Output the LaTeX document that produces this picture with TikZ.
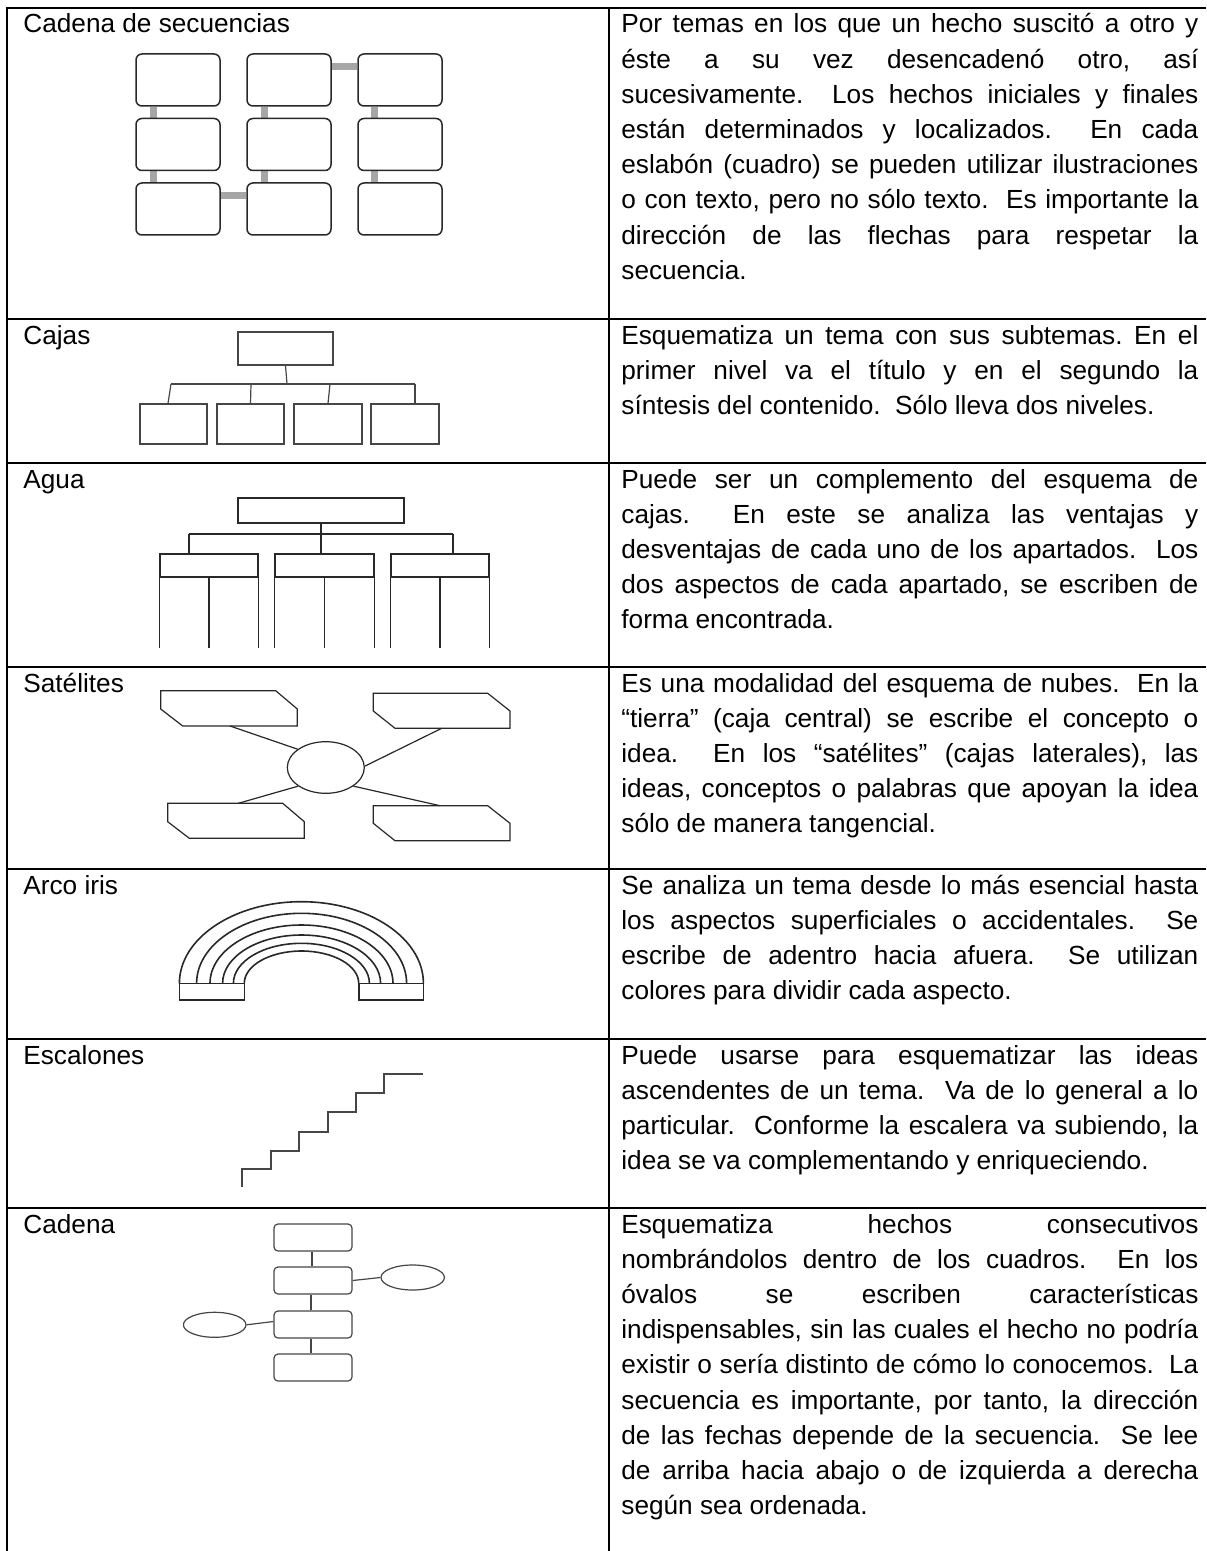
\documentclass[tikz,border=0pt]{standalone}
\usepackage{fontspec}
\setmainfont{Liberation Sans}
\usetikzlibrary{shapes.geometric,calc,backgrounds}
\definecolor{conn}{RGB}{166,166,166}
\definecolor{ink}{RGB}{40,40,40}
\definecolor{inkl}{RGB}{70,70,70}
\pretolerance=10000
\tolerance=10000
\hbadness=10000
\hfuzz=30pt
\frenchspacing
\begin{document}
\begin{tikzpicture}[x=0.5pt,y=-0.5pt,
  grid/.style={line width=1.25pt,black},
  lbl/.style={anchor=base west,inner sep=0pt,font=\fontsize{13.1}{17.6}\selectfont},
  desc/.style={anchor=base west,inner sep=0pt,text width=288.5pt,align=justify,font=\fontsize{13.1}{17.6}\selectfont},
  sbox/.style={draw=ink,line width=0.75pt,rounded corners=3pt,minimum width=42pt,minimum height=26pt,inner sep=0pt,fill=white},
  gcon/.style={draw=conn,line width=3.5pt},
  cbox/.style={draw=inkl,line width=0.6pt,inner sep=0pt},
  cline/.style={draw=inkl,line width=0.6pt},
  aline/.style={draw=ink,line width=0.7pt},
  sat/.style={draw=ink,line width=0.6pt},
  rb/.style={draw=ink,line width=0.8pt},
  st/.style={draw=inkl,line width=0.6pt},
  kbox/.style={draw=inkl,line width=0.6pt,rounded corners=2pt,minimum width=39pt,minimum height=13.5pt,inner sep=0pt},
  oval/.style={draw=inkl,line width=0.6pt,ellipse,inner sep=0pt,minimum height=12.5pt}
]
\begin{scope}[on background layer]
\fill[white] (0,0) rectangle (1206,1551);
\end{scope}
\useasboundingbox (0,0) rectangle (1206,1551);

% ---------- table grid ----------
\draw[grid] (1206,8) -- (7,8) -- (7,1551);
\draw[grid] (609,8) -- (609,1551);
\foreach \yy in {319,463,667,869,1039,1208} \draw[grid] (7,\yy) -- (1206,\yy);

% ---------- labels ----------
\node[lbl] (l1) at (23,33) {Cadena de secuencias};
\node[lbl] (l2) at (23,344) {Cajas};
\node[lbl] (l3) at (23,488) {Agua};
\node[lbl] (l4) at (23,692) {Satélites};
\node[lbl] (l5) at (23,894) {Arco iris};
\node[lbl] (l6) at (23,1064) {Escalones};
\node[lbl] (l7) at (23,1233) {Cadena};

% ---------- descriptions ----------
\node[desc] (d1) at (621,33) {Por temas en los que un hecho suscitó a otro y\linebreak
éste a su vez desencadenó otro, así\linebreak
sucesivamente.\ \ Los hechos iniciales y finales\linebreak
están determinados y localizados.\ \ En cada\linebreak
eslabón (cuadro) se pueden utilizar ilustraciones\linebreak
o con texto, pero no sólo texto.\ \ Es importante la\linebreak
dirección de las flechas para respetar la\linebreak
secuencia.};
\node[desc] (d2) at (621,344) {Esquematiza un tema con sus subtemas. En el\linebreak
primer nivel va el título y en el segundo la\linebreak
síntesis del contenido.\ \ Sólo lleva dos niveles.};
\node[desc] (d3) at (621,488) {Puede ser un complemento del esquema de\linebreak
cajas.\ \ En este se analiza las ventajas y\linebreak
desventajas de cada uno de los apartados.\ \ Los\linebreak
dos aspectos de cada apartado, se escriben de\linebreak
forma encontrada.};
\node[desc] (d4) at (621,692) {Es una modalidad del esquema de nubes.\ \ En la\linebreak
“tierra” (caja central) se escribe el concepto o\linebreak
idea.\ \ En los “satélites” (cajas laterales), las\linebreak
ideas, conceptos o palabras que apoyan la idea\linebreak
sólo de manera tangencial.};
\node[desc] (d5) at (621,894) {Se analiza un tema desde lo más esencial hasta\linebreak
los aspectos superficiales o accidentales.\ \ Se\linebreak
escribe de adentro hacia afuera.\ \ Se utilizan\linebreak
colores para dividir cada aspecto.};
\node[desc] (d6) at (621,1064) {Puede usarse para esquematizar las ideas\linebreak
ascendentes de un tema.\ \ Va de lo general a lo\linebreak
particular.\ \ Conforme la escalera va subiendo, la\linebreak
idea se va complementando y enriqueciendo.};
\node[desc] (d7) at (621,1233) {Esquematiza hechos consecutivos\linebreak
nombrándolos dentro de los cuadros.\ \ En los\linebreak
óvalos se escriben características\linebreak
indispensables, sin las cuales el hecho no podría\linebreak
existir o sería distinto de cómo lo conocemos.\ \ La\linebreak
secuencia es importante, por tanto, la dirección\linebreak
de las fechas depende de la secuencia.\ \ Se lee\linebreak
de arriba hacia abajo o de izquierda a derecha\linebreak
según sea ordenada.};

% ---------- Cadena de secuencias ----------
\node[sbox] (b11) at (178,80) {};
\node[sbox] (b12) at (289,80) {};
\node[sbox] (b13) at (400,80) {};
\node[sbox] (b21) at (178,144.5) {};
\node[sbox] (b22) at (289,144.5) {};
\node[sbox] (b23) at (400,144.5) {};
\node[sbox] (b31) at (178,209) {};
\node[sbox] (b32) at (289,209) {};
\node[sbox] (b33) at (400,209) {};
\begin{scope}[on background layer]
\draw[gcon] ([xshift=9pt]b11.south west) -- ([xshift=9pt]b21.north west);
\draw[gcon] ([xshift=9pt]b21.south west) -- ([xshift=9pt]b31.north west);
\draw[gcon] ([xshift=9pt]b12.south west) -- ([xshift=9pt]b22.north west);
\draw[gcon] ([xshift=9pt]b22.south west) -- ([xshift=9pt]b32.north west);
\draw[gcon] ([xshift=8.5pt]b13.south west) -- ([xshift=8.5pt]b23.north west);
\draw[gcon] ([xshift=8.5pt]b23.south west) -- ([xshift=8.5pt]b33.north west);
\draw[gcon] ([yshift=-6.5pt]b12.north east) -- ([yshift=-6.5pt]b13.north west);
\draw[gcon] ([yshift=-6.5pt]b31.north east) -- ([yshift=-6.5pt]b32.north west);
\end{scope}

% ---------- Cajas ----------
\node[cbox,minimum width=47.5pt,minimum height=16.5pt] (kt) at (285.5,348.5) {};
\node[cbox,minimum width=33.5pt,minimum height=20pt] (k1) at (173.5,424) {};
\node[cbox,minimum width=33.5pt,minimum height=20pt] (k2) at (250.5,424) {};
\node[cbox,minimum width=34pt,minimum height=20pt] (k3) at (328,424) {};
\node[cbox,minimum width=34pt,minimum height=20pt] (k4) at (405,424) {};
\coordinate (kbl) at (171,384);
\coordinate (kbm) at (287,384);
\coordinate (kb2) at (251,384);
\coordinate (kb3) at (330,384);
\coordinate (kbr) at (415,384);
\draw[cline] (kbl) -- (kbr);
\draw[cline] (kt.south) -- (kbm);
\draw[cline] (kbl) -- ([xshift=-2.75pt]k1.north);
\draw[cline] (kb2) -- (k2.north);
\draw[cline] (kb3) -- (k3.north);
\draw[cline] (kbr) -- ([xshift=5pt]k4.north);

% ---------- Agua ----------
\node[draw=ink,line width=0.7pt,inner sep=0pt,minimum width=83pt,minimum height=12.5pt] (at) at (321,510.5) {};
\node[draw=ink,line width=0.7pt,inner sep=0pt,minimum width=49pt,minimum height=11.5pt] (a1) at (209,565.5) {};
\node[draw=ink,line width=0.7pt,inner sep=0pt,minimum width=49.5pt,minimum height=11.5pt] (a2) at (324.5,565.5) {};
\node[draw=ink,line width=0.7pt,inner sep=0pt,minimum width=49pt,minimum height=11.5pt] (a3) at (440,565.5) {};
\foreach \n in {a1,a2,a3} {
  \draw[aline] (\n.south west) -- ++(0,70);
  \draw[aline] (\n.south) -- ++(0,70);
  \draw[aline] (\n.south east) -- ++(0,70);
}
\coordinate (abl) at (189,534);
\coordinate (abr) at (453,534);
\draw[aline] (abl) -- (abr);
\draw[aline] (at.south) -- (at.south |- a2.north);
\draw[aline] (abl) -- (abl |- a1.north);
\draw[aline] (abr) -- (abr |- a3.north);

% ---------- Satelites ----------
\draw[sat] (160.7,690.7) -- (275.7,690.7) -- (297.3,709) -- (297.3,726) -- (182.7,726) -- (160.7,709) -- cycle;
\draw[sat] (373.3,693.3) -- (487.7,693.3) -- (510,711) -- (510,728.3) -- (395,728.3) -- (373.3,711) -- cycle;
\draw[sat] (167.7,803.3) -- (282.7,803.3) -- (304.3,821.7) -- (304.3,838.3) -- (189.3,838.3) -- (167.7,821.7) -- cycle;
\draw[sat] (373.3,805.7) -- (487.7,805.7) -- (510,823.3) -- (510,840.7) -- (395,840.7) -- (373.3,823.3) -- cycle;
\node[draw=ink,line width=0.6pt,ellipse,inner sep=0pt,minimum width=38.5pt,minimum height=25.8pt] (earth) at (325.8,767.5) {};
\coordinate (s1) at (230,726);
\coordinate (s2) at (441.7,728.3);
\coordinate (s3) at (238.3,803.3);
\coordinate (s4) at (440,805.7);
\draw[sat] (s1) -- (earth.147);
\draw[sat] (s2) -- (earth.2);
\draw[sat] (s3) -- (earth.214);
\draw[sat] (s4) -- (earth.326);

% ---------- Arco iris ----------
\foreach \xl/\rx/\ry in {179.4/122/81.6, 196.6/105/70, 210/91.5/58.3, 222.6/79/48.3, 233.4/68/40, 244.3/57.2/32.3}
  \draw[rb] (\xl,983.3) arc[start angle=180,end angle=0,x radius=\rx*0.5pt,y radius=\ry*0.5pt];
\draw[rb] (179.4,983.3) rectangle (244.3,1000);
\draw[rb] (358.7,983.3) rectangle (423.4,1000);

% ---------- Escalones ----------
\draw[st] (242,1187) -- (242,1169) -- (271,1169) -- (271,1151) -- (299,1151) -- (299,1132) -- (328,1132) -- (328,1112) -- (356,1112) -- (356,1093) -- (384,1093) -- (384,1074) -- (423,1074);

% ---------- Cadena ----------
\node[kbox] (c1) at (313,1237.5) {};
\node[kbox] (c2) at (313,1280.5) {};
\node[kbox] (c3) at (313,1324.5) {};
\node[kbox] (c4) at (313,1367.5) {};
\node[oval,minimum width=31.7pt] (e1) at (412.7,1277.5) {};
\node[oval,minimum width=31.3pt] (e2) at (214.7,1324.8) {};
\draw[cline] ([xshift=-0.5pt]c1.south) -- ([xshift=-0.5pt]c2.north);
\draw[cline] ([xshift=-1pt]c2.south) -- ([xshift=-1pt]c3.north);
\draw[cline] ([xshift=-1pt]c3.south) -- ([xshift=-1pt]c4.north);
\draw[cline] (c2.east) -- (e1.west);
\draw[cline] (e2.east) -- ([yshift=1.5pt]c3.west);
\end{tikzpicture}
\end{document}
